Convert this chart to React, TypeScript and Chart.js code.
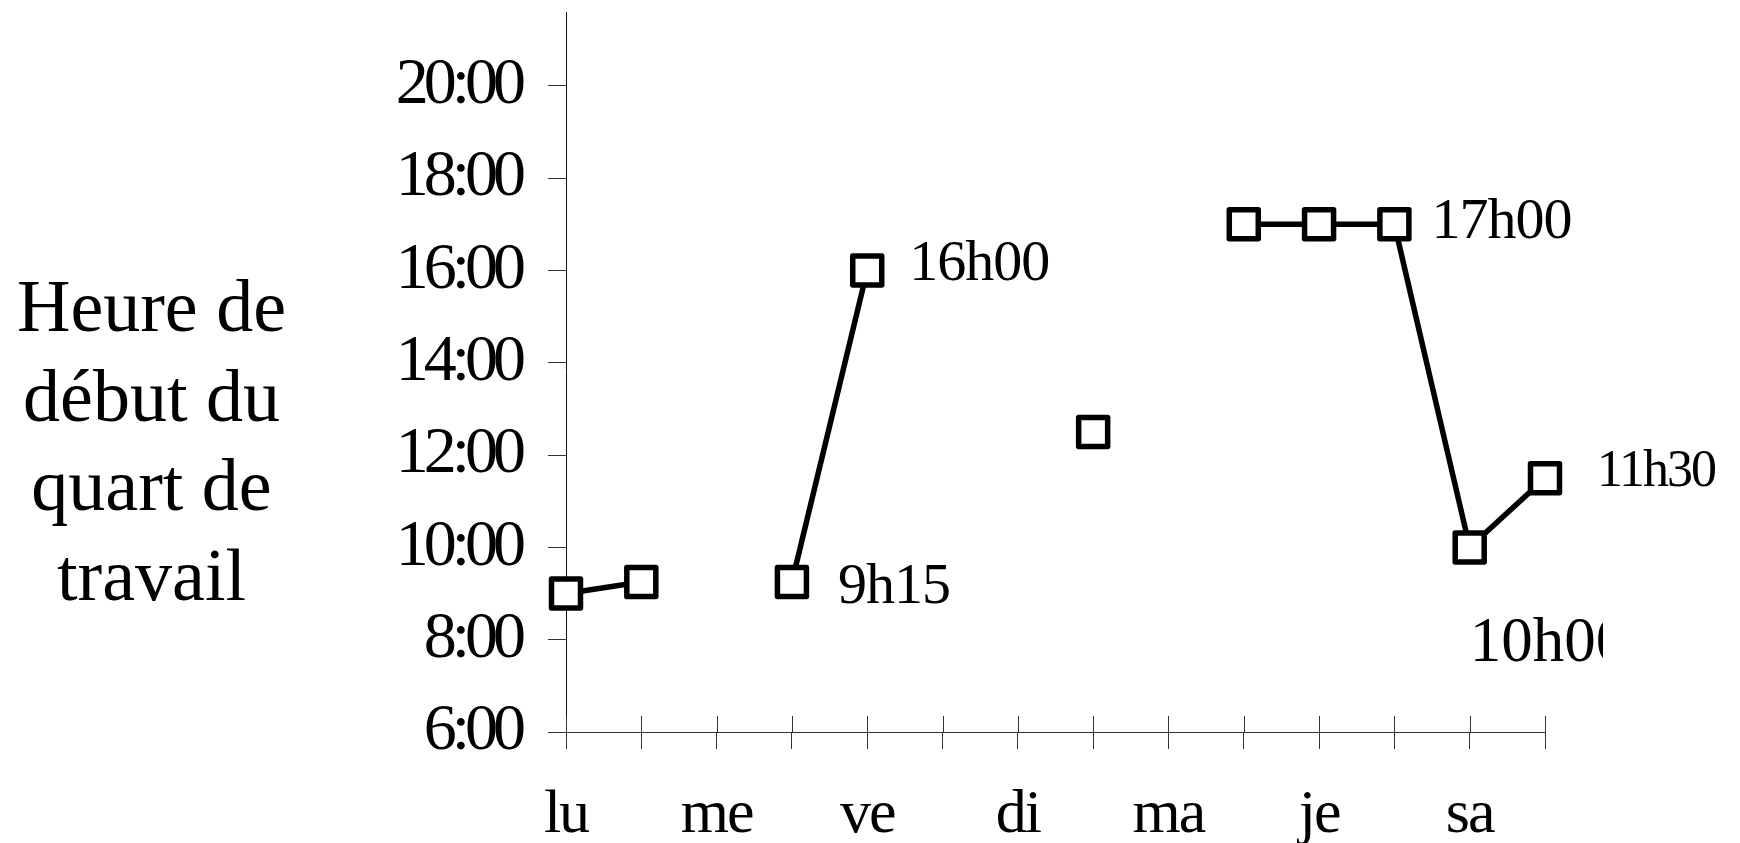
import React, { useEffect, useRef } from 'react';
import { Chart, registerables } from 'chart.js';

Chart.register(...registerables);

// ---- data ----
const days = ['lu', 'ma', 'me', 'je', 've', 'sa', 'di', 'lu', 'ma', 'me', 'je', 've', 'sa', 'di'];
const startHours: (number | null)[] = [9, 9.25, null, 9.25, 16, null, null, 12.5, null, 17, 17, 17, 10, 11.5];
const pointLabels: (string | null)[] = [null, null, null, '9h15', '16h00', null, null, null, null, null, null, '17h00', '10h00', '11h30'];
const yMin = 6;
const yMax = 21.6;
const yStep = 2;
const titleLines = ['Heure de', 'début du', 'quart de', 'travail'];

// ---- styles ----
const SERIF = "'Liberation Serif', 'Times New Roman', serif";
const labelStyle: Record<number, { dx: number; dy: number; size: number; ls: number; clipRight?: number }> = {
  3: { dx: 46, dy: 21, size: 58, ls: -1 },
  4: { dx: 42, dy: 10, size: 58, ls: -1 },
  11: { dx: 37, dy: 14, size: 58, ls: -1 },
  12: { dx: 0, dy: 114, size: 63, ls: 0, clipRight: 1603 },
  13: { dx: 52, dy: 8, size: 52, ls: -2 },
};

const spacingPlugin = {
  id: 'tickSpacing',
  beforeDraw(chart: any) {
    const spacing: Record<string, string> = { x: '-2px', y: '-5px' };
    for (const id of ['x', 'y']) {
      const s: any = chart.scales[id];
      if (!s || s.__patched) continue;
      const orig = s.drawLabels.bind(s);
      s.drawLabels = (area: any) => {
        const ctx = chart.ctx;
        ctx.save();
        (ctx as any).letterSpacing = spacing[id];
        orig(area);
        ctx.restore();
      };
      s.__patched = true;
    }
  },
};

const crossTicksPlugin = {
  id: 'crossTicks',
  beforeDatasetsDraw(chart: any) {
    const xs = chart.scales.x;
    const ctx = chart.ctx;
    ctx.save();
    ctx.strokeStyle = '#333';
    ctx.lineWidth = 1;
    const y0 = chart.chartArea.bottom;
    xs.ticks.forEach((_t: any, i: number) => {
      const x = Math.round(xs.getPixelForTick(i)) + 0.5;
      ctx.beginPath();
      ctx.moveTo(x, y0);
      ctx.lineTo(x, y0 - 16);
      ctx.stroke();
    });
    ctx.restore();
    ctx.lineJoin = 'round';
  },
};

const pointLabelPlugin = {
  id: 'pointLabels',
  afterDatasetsDraw(chart: any) {
    const ctx = chart.ctx;
    const meta = chart.getDatasetMeta(0);
    pointLabels.forEach((txt, i) => {
      if (!txt) return;
      const st = labelStyle[i];
      const pt = meta.data[i];
      if (!st || !pt) return;
      ctx.save();
      if (st.clipRight) {
        ctx.beginPath();
        ctx.rect(0, 0, st.clipRight, chart.height);
        ctx.clip();
      }
      ctx.font = `${st.size}px ${SERIF}`;
      (ctx as any).letterSpacing = `${st.ls}px`;
      ctx.fillStyle = '#000';
      ctx.textAlign = 'left';
      ctx.textBaseline = 'alphabetic';
      ctx.fillText(txt, pt.x + st.dx, pt.y + st.dy);
      ctx.restore();
    });
  },
};

export default function App() {
  const canvasRef = useRef<HTMLCanvasElement | null>(null);

  useEffect(() => {
    if (!canvasRef.current) return;
    const chart = new Chart(canvasRef.current, {
      type: 'line',
      data: {
        labels: days,
        datasets: [
          {
            data: startHours,
            borderColor: '#000',
            borderWidth: 5.5,
            pointStyle: 'rect',
            pointRadius: 20.5,
            pointHoverRadius: 20.5,
            pointBorderWidth: 5.5,
            pointBorderColor: '#000',
            pointBackgroundColor: '#fff',
            spanGaps: false,
            tension: 0,
            clip: false as any,
          },
        ],
      },
      options: {
        animation: false,
        responsive: false,
        devicePixelRatio: 1,
        events: [],
        layout: { autoPadding: false, padding: { left: 0, top: 12, right: 195, bottom: 0 } },
        plugins: {
          legend: { display: false },
          tooltip: { enabled: false },
          title: { display: false },
        },
        scales: {
          x: {
            type: 'category',
            offset: false,
            grid: { display: true, drawOnChartArea: false, drawTicks: true, tickLength: 17, color: '#333', lineWidth: 1 },
            border: { display: true, color: '#333', width: 1 },
            ticks: {
              autoSkip: false,
              maxRotation: 0,
              minRotation: 0,
              padding: 30,
              color: '#000',
              font: { family: SERIF, size: 62 },
              callback: (_v: any, i: number) => (i % 2 === 0 ? days[i] : ''),
            },
            afterFit: (s: any) => {
              s.height = 111;
              s.paddingLeft = 0;
              s.paddingRight = 0;
            },
          },
          y: {
            type: 'linear',
            min: yMin,
            max: yMax,
            grid: { display: true, drawOnChartArea: false, drawTicks: true, tickLength: 18, color: '#333', lineWidth: 1 },
            border: { display: true, color: '#111', width: 1 },
            ticks: {
              stepSize: yStep,
              includeBounds: false,
              padding: 27,
              color: '#000',
              font: { family: SERIF, size: 66 },
              callback: (v: any) => `${v}:00`,
            },
            afterFit: (s: any) => {
              s.width = 566;
              s.paddingTop = 0;
              s.paddingBottom = 0;
            },
          },
        },
      },
      plugins: [spacingPlugin, crossTicksPlugin, pointLabelPlugin],
    });
    return () => chart.destroy();
  }, []);

  return (
    <div style={{ position: 'fixed', left: 0, top: 0, width: 1740, height: 843, background: '#fff' }}>
      <canvas ref={canvasRef} width={1740} height={843} style={{ display: 'block' }} />
      <div
        style={{
          position: 'absolute',
          left: 0,
          top: 262,
          width: 303,
          textAlign: 'center',
          fontFamily: SERIF,
          fontSize: 74,
          lineHeight: '89.5px',
          color: '#000',
        }}
      >
        {titleLines.map((l, i) => (
          <div key={i}>{l}</div>
        ))}
      </div>
    </div>
  );
}
